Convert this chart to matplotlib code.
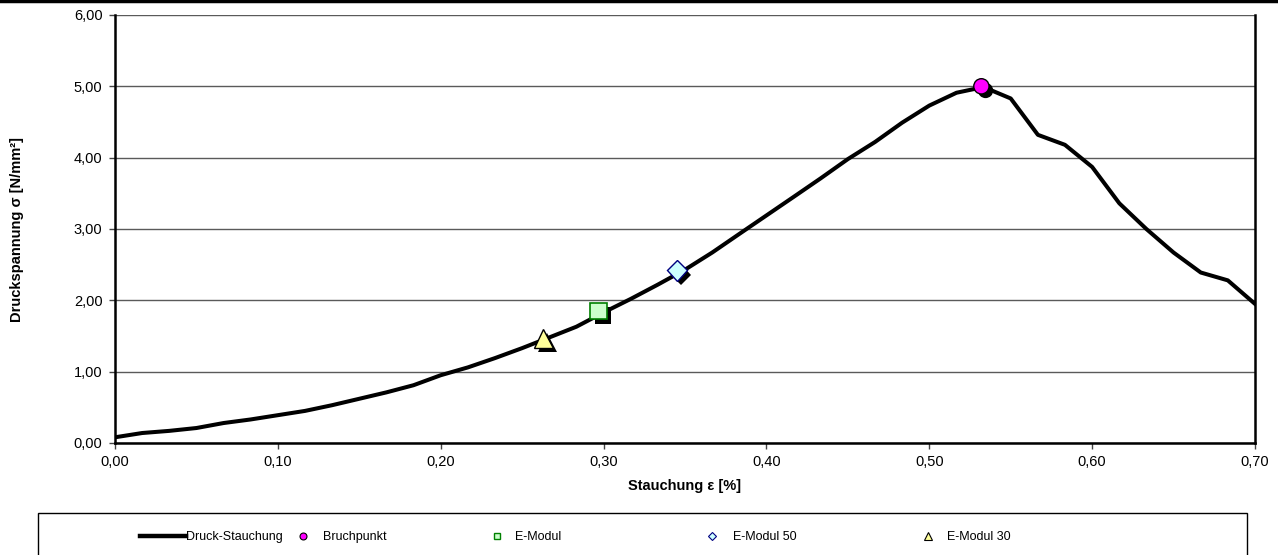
import numpy as np
import matplotlib
matplotlib.use("Agg")
import matplotlib.pyplot as plt
from matplotlib import patheffects as pe
from matplotlib.lines import Line2D
from matplotlib.patches import Rectangle
from matplotlib.ticker import MultipleLocator, FuncFormatter

plt.rcParams['font.family'] = ['Liberation Sans', 'DejaVu Sans']

# Druck-Stauchung Kurve
strain = [0.0, 0.0167, 0.0333, 0.05, 0.0667, 0.0833, 0.1, 0.1167, 0.1333, 0.15,
          0.1667, 0.1833, 0.2, 0.2167, 0.2333, 0.25, 0.2667, 0.2833, 0.3, 0.3167,
          0.3333, 0.35, 0.3667, 0.3833, 0.4, 0.4167, 0.4333, 0.45, 0.4667, 0.4833,
          0.5, 0.5167, 0.5333, 0.55, 0.5667, 0.5833, 0.6, 0.6167, 0.6333, 0.65,
          0.6667, 0.6833, 0.7]
stress = [0.08, 0.14, 0.17, 0.21, 0.28, 0.33, 0.39, 0.45, 0.53, 0.62,
          0.71, 0.81, 0.95, 1.06, 1.19, 1.33, 1.48, 1.63, 1.83, 2.02,
          2.22, 2.43, 2.67, 2.93, 3.19, 3.45, 3.71, 3.98, 4.22, 4.49,
          4.73, 4.91, 4.99, 4.83, 4.32, 4.18, 3.87, 3.36, 3.00, 2.67,
          2.39, 2.28, 1.95]

# Einzelpunkte
bruch_x, bruch_y = [0.532], [5.00]
emod_x, emod_y = [0.297], [1.85]
emod50_x, emod50_y = [0.345], [2.42]
emod30_x, emod30_y = [0.263], [1.47]

W, H = 1278, 555
fig = plt.figure(figsize=(W / 100, H / 100), dpi=100)
ax = fig.add_axes([115 / W, (H - 443) / H, (1255 - 115) / W, (443 - 15) / H])

ax.plot(strain, stress, color='black', lw=2.9, zorder=3, solid_joinstyle='round')

shadow = [pe.SimplePatchShadow(offset=(3, -3), shadow_rgbFace='black', alpha=1.0), pe.Normal()]
ax.plot(bruch_x, bruch_y, ls='none', marker='o', ms=11, mfc='#FF00FF', mec='black', mew=1,
        zorder=5, path_effects=shadow)
ax.plot(emod_x, emod_y, ls='none', marker='s', ms=12, mfc='#CCFFCC', mec='#008000', mew=1.2,
        zorder=5, path_effects=shadow)
ax.plot(emod50_x, emod50_y, ls='none', marker='D', ms=10.5, mfc='#CCFFFF', mec='#000080', mew=1,
        zorder=5, path_effects=shadow)
ax.plot(emod30_x, emod30_y, ls='none', marker='^', ms=13.5, mfc='#FFFF99', mec='black', mew=1,
        zorder=5, path_effects=shadow)

ax.set_xlim(0, 0.7)
ax.set_ylim(0, 6)
ax.xaxis.set_major_locator(MultipleLocator(0.1))
ax.yaxis.set_major_locator(MultipleLocator(1))
comma = FuncFormatter(lambda v, p: ('%.2f' % v).replace('.', ','))
ax.xaxis.set_major_formatter(comma)
ax.yaxis.set_major_formatter(comma)
ax.tick_params(axis='both', direction='out', length=4, width=1, labelsize=10.5, color='#444444', pad=5)

ax.grid(axis='y', color='#5a5a5a', lw=1)
ax.set_axisbelow(True)
ax.spines['top'].set_visible(False)
for s in ['left', 'bottom', 'right']:
    ax.spines[s].set_linewidth(1.8)
    ax.spines[s].set_color('black')

ax.set_xlabel('Stauchung ε [%]', fontsize=10.5, fontweight='bold', labelpad=7)
fig.text(17 / W, (H - 229) / H, 'Druckspannung σ [N/mm²]', rotation=90, fontsize=10.5,
         fontweight='bold', ha='center', va='center')

# Legende
fig.add_artist(Rectangle((38 / W, (H - 562) / H), (1247 - 38) / W, 49 / H, transform=fig.transFigure,
                         fill=False, edgecolor='black', lw=1, clip_on=False))
fig.add_artist(Line2D([0, 1], [1 - 1 / H, 1 - 1 / H], transform=fig.transFigure, color='black', lw=2.5))

leg_labels = ['Druck-Stauchung', 'Bruchpunkt', 'E-Modul', 'E-Modul 50', 'E-Modul 30']
leg_handles = [
    Line2D([], [], color='black', lw=3.2),
    Line2D([], [], ls='none', marker='o', ms=5, mfc='#FF00FF', mec='black', mew=0.8),
    Line2D([], [], ls='none', marker='s', ms=5, mfc='#CCFFCC', mec='#008000', mew=1),
    Line2D([], [], ls='none', marker='D', ms=4.5, mfc='#CCFFFF', mec='#000080', mew=0.8),
    Line2D([], [], ls='none', marker='^', ms=5.5, mfc='#FFFF99', mec='black', mew=0.8),
]
leg_start = [140, 294, 488, 703, 919]
leg_hlen = [3.7, 1.5, 1.5, 1.5, 1.5]
leg_pad = [0.0, 0.8, 0.7, 0.9, 0.7]
for h, lab, x0, hl, tp in zip(leg_handles, leg_labels, leg_start, leg_hlen, leg_pad):
    fig.legend(handles=[h], labels=[lab], loc='center left', bbox_to_anchor=(x0 / W, (H - 537) / H),
               frameon=False, fontsize=9, handlelength=hl, handletextpad=tp, borderpad=0,
               borderaxespad=0)

fig.savefig('out.png', dpi=100)
